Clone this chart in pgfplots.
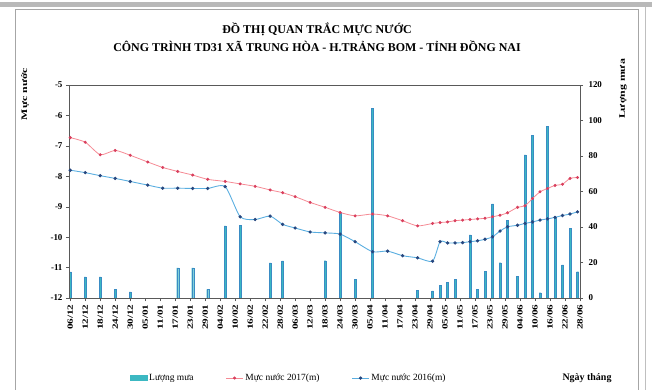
\documentclass[border=0pt]{standalone}
\usepackage{pgfplots}
\pgfplotsset{compat=1.18}
\usepackage{pgfplotstable}
\usepackage{fontspec}
\setmainfont{Liberation Serif}
\newfontfamily\xtf[FakeStretch=1.4]{Liberation Serif}
\definecolor{rainc}{HTML}{3CB8C2}
\definecolor{rainedge}{HTML}{3A8CC4}
\definecolor{redl}{HTML}{F58A94}
\definecolor{redm}{HTML}{D9405E}
\definecolor{bluel}{HTML}{5AAEE0}
\definecolor{bluem}{HTML}{27477F}

\pgfplotstableread{
day red blue
0 -6.73 -7.80
6 -6.88 -7.88
12 -7.29 -7.98
18 -7.15 -8.07
24 -7.31 -8.17
31 -7.53 -8.29
37 -7.71 -8.39
43 -7.84 -8.39
49 -7.96 -8.40
55 -8.10 -8.40
62 -8.17 -8.34
68 -8.25 -9.33
74 -8.33 -9.42
80 -8.45 -9.31
85 -8.54 -9.58
90 -8.67 -9.70
96 -8.86 -9.83
102 -9.02 -9.86
108 -9.19 -9.90
114 -9.30 -10.15
121 -9.24 -10.48
127 -9.30 -10.46
133 -9.46 -10.61
139 -9.63 -10.68
145 -9.55 -10.79
148 -9.52 -10.15
151 -9.50 -10.19
154 -9.46 -10.19
157 -9.44 -10.18
160 -9.42 -10.15
163 -9.40 -10.12
166 -9.38 -10.07
169 -9.33 -9.99
172 -9.28 -9.80
175 -9.20 -9.66
179 -9.02 -9.61
182 -8.97 -9.55
185 -8.73 -9.50
188 -8.51 -9.44
191 -8.40 -9.40
194 -8.30 -9.35
197 -8.26 -9.29
200 -8.07 -9.24
203 -8.04 -9.17
}\levels

\pgfplotstableread{
day rain
0 14.7
6 11.9
12 11.9
18 4.9
24 3.4
43 17
49 17
55 4.9
62 40.6
68 41
80 19.8
85 20.9
102 21
108 47.6
114 10.6
121 107
139 4.4
145 4
148 7.2
151 8.7
154 10.6
160 35.6
163 4.9
166 15.2
169 53
172 19.9
175 43.6
179 12.3
182 80.6
185 91.6
188 3
191 96.7
194 45.7
197 18.6
200 39.4
203 14.8
}\rain

\begin{document}
\begin{tikzpicture}
\useasboundingbox (0,0) rectangle (652bp,390bp);
\fill[gray!55] (0,383bp) rectangle (652bp,388bp);
\draw[gray!70, line width=1bp] (15bp,0) -- (15bp,380bp) -- (638bp,380bp) -- (638bp,0);
\draw[gray!50, line width=0.8bp] (645bp,0) -- (645bp,383bp);

\begin{axis}[
  at={(69bp,92bp)}, anchor=south west,
  width=511bp, height=213bp, scale only axis,
  xmin=-0.5, xmax=204, ymin=0, ymax=120,
  axis y line*=right, axis x line=none,
  y axis line style={gray!70!black, -},
  ytick={0,20,...,120},
  /pgf/number format/assume math mode=true,
  yticklabel style={font=\bfseries\fontsize{9}{9}\selectfont, xshift=2bp},
  ytick style={gray!70!black},
  tick align=outside,
  major tick length=3bp,
]
\addplot[ybar, bar width=2bp, fill=rainc, draw=rainedge, line width=0.3pt]
  table[x=day,y=rain]{\rain};
\end{axis}

\begin{axis}[
  at={(69bp,92bp)}, anchor=south west,
  width=511bp, height=213bp, scale only axis,
  xmin=-0.5, xmax=204, ymin=-12, ymax=-5,
  axis line style={gray!70!black},
  ytick={-12,-11,...,-5},
  ytick pos=left, xtick pos=bottom,
  xtick={0,6,...,204},
  xticklabels={06/12,12/12,18/12,24/12,30/12,05/01,11/01,17/01,23/01,29/01,04/02,10/02,16/02,22/02,28/02,06/03,12/03,18/03,24/03,30/03,05/04,11/04,17/04,23/04,29/04,05/05,11/05,17/05,23/05,29/05,04/06,10/06,16/06,22/06,28/06},
  xticklabel style={rotate=90, anchor=east, font=\xtf\bfseries\fontsize{8}{8}\selectfont},
  /pgf/number format/assume math mode=true,
  yticklabel style={font=\bfseries\fontsize{9}{9}\selectfont},
  tick style={gray!70!black},
  major tick length=3bp,
  tick align=outside,
  legend style={at={(0.43,-0.376)}, anchor=center, draw=none, fill=none,
    legend columns=3, font=\fontsize{9.5}{10}\selectfont,
    /tikz/every even column/.append style={column sep=30bp}},
]
\addlegendimage{legend image code/.code={\fill[rainc] (0bp,-2.5bp) rectangle (17bp,2.5bp);}}
\addlegendentry{Lượng mưa}
\addplot[redl, line width=0.8pt, smooth, tension=0.4, mark=*, mark size=1.1pt,
  mark options={fill=redm, draw=redm}] table[x=day,y=red]{\levels};
\addlegendentry{Mực nước 2017(m)}
\addplot[bluel, line width=0.9pt, smooth, tension=0.4, mark=*, mark size=1.2pt,
  mark options={fill=bluem, draw=bluem}] table[x=day,y=blue]{\levels};
\addlegendentry{Mực nước 2016(m)}
\end{axis}

\node[font=\bfseries\fontsize{10}{10}\selectfont] at (587bp,12bp) {Ngày tháng};
\node[font=\bfseries\fontsize{12}{12}\selectfont] at (317bp,361bp) {ĐỒ THỊ QUAN TRẮC MỰC NƯỚC};
\node[font=\bfseries\fontsize{12}{12}\selectfont] at (317bp,344bp) {CÔNG TRÌNH TD31 XÃ TRUNG HÒA - H.TRẢNG BOM - TỈNH ĐỒNG NAI};
\node[rotate=90, font=\xtf\bfseries\fontsize{8.5}{9}\selectfont] at (25bp,296bp) {Mực nước};
\node[rotate=90, font=\xtf\bfseries\fontsize{8.5}{9}\selectfont] at (623bp,301bp) {Lượng mưa};
\end{tikzpicture}
\end{document}
